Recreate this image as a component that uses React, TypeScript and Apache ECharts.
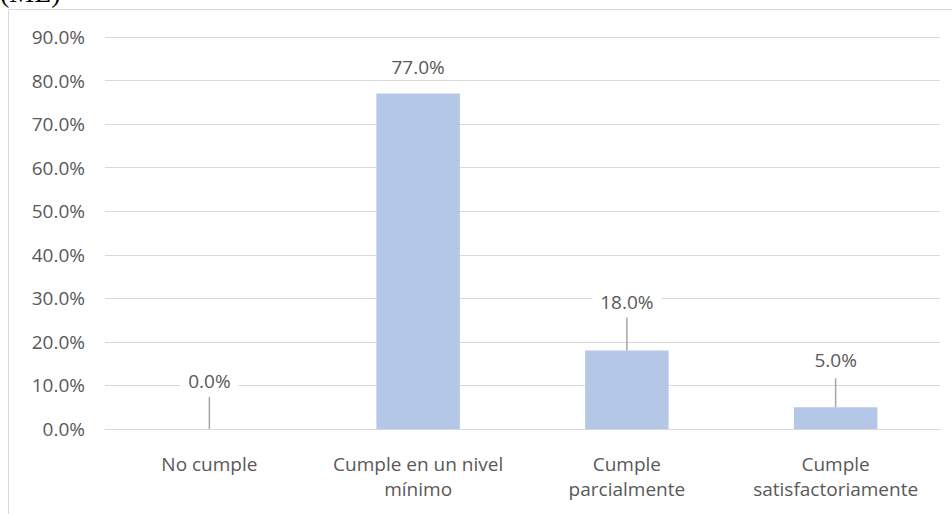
import React, { useEffect, useRef } from "react";
import * as echarts from "echarts";

const categories = [
  "No cumple",
  "Cumple en un nivel\nmínimo",
  "Cumple\nparcialmente",
  "Cumple\nsatisfactoriamente",
];
const values = [0.0, 77.0, 18.0, 5.0];
const yTicks = { min: 0, max: 90, interval: 10 };

// how far each data label sits above its bar, and its leader line length (px)
const labelDistance = [39, 17, 39, 38];
const leaderLength = [32, 0, 33, 29];

const FONT = "'Open Sans', Lato, sans-serif";
const FS = 19;
const TEXT = "#595959";
const GRID = "#d9d9d9";

export default function App() {
  const ref = useRef<HTMLDivElement>(null);

  useEffect(() => {
    if (!ref.current) return;
    const chart = echarts.init(ref.current, null, { renderer: "svg" });
    chart.setOption({
      animation: false,
      backgroundColor: "#ffffff",
      textStyle: { fontFamily: FONT },
      graphic: [
        {
          type: "rect",
          shape: { x: 8.5, y: 9.5, width: 960, height: 520 },
          style: { fill: "none", stroke: GRID, lineWidth: 1 },
          silent: true,
        },
        {
          type: "text",
          x: 0,
          y: 6,
          style: {
            text: "(ML)",
            font: "28px 'Liberation Serif', serif",
            fill: "#000000",
            verticalAlign: "bottom",
            letterSpacing: 3,
          },
        },
      ],
      grid: { left: 105, right: 12, top: 37, bottom: 85 },
      xAxis: {
        type: "category",
        data: categories,
        axisLine: { show: true, lineStyle: { color: GRID } },
        axisTick: { show: false },
        axisLabel: {
          color: TEXT,
          fontSize: FS,
          fontFamily: FONT,
          lineHeight: 25,
          margin: 22,
          interval: 0,
        },
      },
      yAxis: {
        type: "value",
        min: yTicks.min,
        max: yTicks.max,
        interval: yTicks.interval,
        axisLine: { show: false },
        axisTick: { show: false },
        splitLine: { lineStyle: { color: GRID, width: 1 } },
        axisLabel: {
          color: TEXT,
          fontSize: FS,
          fontFamily: FONT,
          margin: 20,
          formatter: (v: number) => v.toFixed(1) + "%",
        },
      },
      series: [
        {
          type: "bar",
          barWidth: "40%",
          itemStyle: { color: "#b4c7e7" },
          data: values.map((v, i) => ({
            value: v,
            label: { distance: labelDistance[i] },
          })),
          label: {
            show: true,
            position: "top",
            color: TEXT,
            fontSize: FS,
            fontFamily: FONT,
            backgroundColor: "#ffffff",
            padding: [0, 8],
            formatter: (p: any) => Number(p.value).toFixed(1) + "%",
          },
          z: 2,
        },
        {
          type: "custom",
          silent: true,
          z: 3,
          data: values.map((v, i) => [i, v]),
          renderItem: (params: any, api: any) => {
            const i = api.value(0);
            const pt = api.coord([i, api.value(1)]);
            const len = leaderLength[params.dataIndex];
            if (!len) return null;
            return {
              type: "line",
              shape: { x1: pt[0], y1: pt[1], x2: pt[0], y2: pt[1] - len },
              style: { stroke: "#a6a6a6", lineWidth: 1.5 },
            };
          },
        },
      ],
    });
    return () => chart.dispose();
  }, []);

  return (
    <div
      ref={ref}
      style={{ position: "absolute", left: 0, top: 0, width: 952, height: 514 }}
    />
  );
}
